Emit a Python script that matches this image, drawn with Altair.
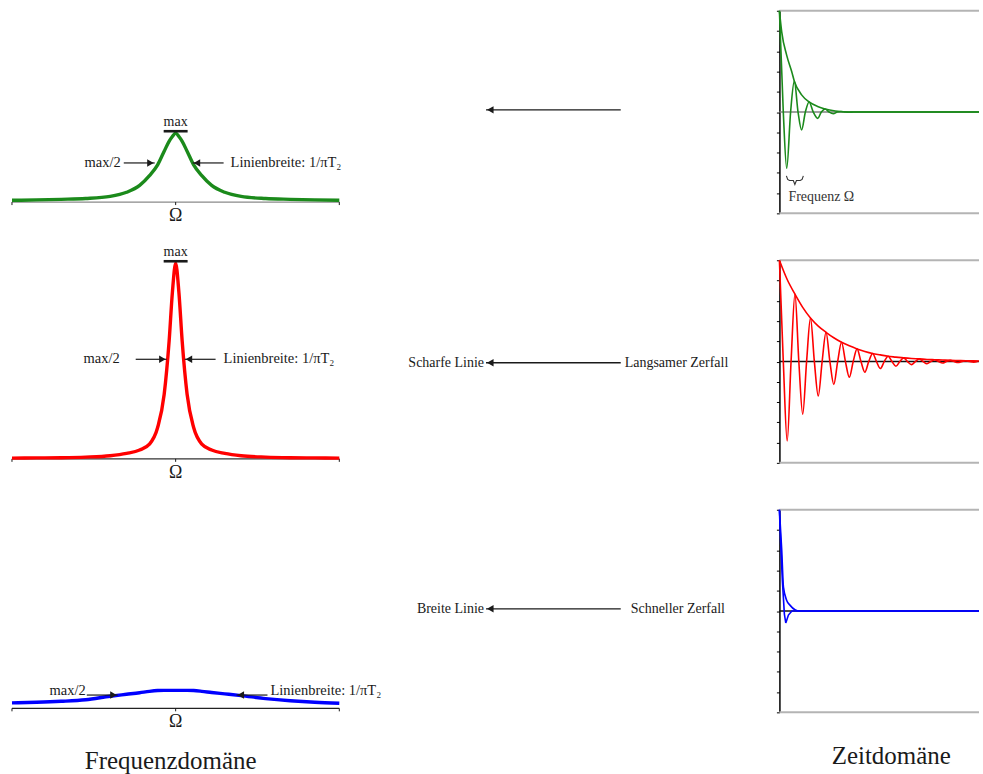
import altair as alt
import pandas as pd

SERIF = "Liberation Serif"
INK = "#1a1a1a"

GREEN = "#1b8a1b"
RED = "#ff0000"
BLUE = "#0000ff"

# ---------------- frequency domain (spectra) ----------------
FREQ_X = [-1.0, -0.85, -0.7, -0.55, -0.4, -0.3, -0.22, -0.16, -0.11, -0.07, -0.04, -0.02, 0.0,
          0.02, 0.04, 0.07, 0.11, 0.16, 0.22, 0.3, 0.4, 0.55, 0.7, 0.85, 1.0]
GREEN_SPEC = [0.009, 0.011, 0.014, 0.018, 0.029, 0.05, 0.085, 0.135, 0.19, 0.26, 0.31, 0.335, 0.352,
              0.335, 0.31, 0.26, 0.19, 0.135, 0.085, 0.05, 0.029, 0.018, 0.014, 0.011, 0.009]
RED_SPEC = [0.004, 0.005, 0.006, 0.009, 0.016, 0.028, 0.045, 0.075, 0.16, 0.33, 0.6, 0.85, 1.0,
            0.85, 0.6, 0.33, 0.16, 0.075, 0.045, 0.028, 0.016, 0.009, 0.006, 0.005, 0.004]
BLUE_SPEC = [0.028, 0.031, 0.036, 0.044, 0.062, 0.072, 0.08, 0.087, 0.091, 0.092, 0.092, 0.092, 0.092,
             0.092, 0.092, 0.092, 0.091, 0.087, 0.081, 0.074, 0.065, 0.05, 0.039, 0.031, 0.026]

# annotation anchors (frequency / intensity units)
SPEC_PEAK = [0.352, 1.0, 0.092]
HALF_Y = [0.20, 0.509, 0.068]
HALF_TIP_L = [-0.128, -0.055, -0.354]
HALF_TIP_R = [0.104, 0.055, 0.372]
SHOW_MAX = [True, True, False]
LABEL_MAX = "max"
LABEL_HALF = "max/2"
LABEL_WIDTH = "Linienbreite: 1/πT₂"
LABEL_OMEGA = "Ω"
TITLE_FREQ = "Frequenzdomäne"
TITLE_TIME = "Zeitdomäne"

# ---------------- time domain (FIDs) ----------------
T_END = 12.85
TICKS = [-1.0, -0.8, -0.6, -0.4, -0.2, 0.0, 0.2, 0.4, 0.6, 0.8, 1.0]

GREEN_T = [0.0, 0.25, 0.47, 0.72, 0.96, 1.2, 1.43, 1.67, 1.91, 2.18, 2.46, 2.7, 2.94, 3.2, 3.47,
           3.72, 3.97, 4.25, 4.5, 4.75, 12.85]
GREEN_FID = [1.0, 0.0, -0.555, 0.0, 0.305, 0.0, -0.177, 0.0, 0.10, 0.0, -0.062, 0.0, 0.03, 0.0,
             -0.016, 0.0, 0.006, 0.0, -0.002, 0.0, 0.0]
GREEN_ENV_T = [0.0, 0.15, 0.47, 0.79, 0.96, 1.43, 1.91, 2.46, 2.94, 3.6, 4.5, 12.85]
GREEN_ENV = [1.0, 0.79, 0.56, 0.40, 0.305, 0.17, 0.10, 0.055, 0.03, 0.01, 0.0, 0.0]

RED_T = [0.0, 0.25, 0.5, 0.75, 1.0, 1.25, 1.5, 1.75, 2.0, 2.25, 2.5, 2.75, 3.0, 3.25, 3.5, 3.75,
         4.0, 4.25, 4.5, 4.75, 5.0, 5.25, 5.5, 5.75, 6.0, 6.25, 6.5, 6.75, 7.0, 7.25, 7.5, 7.75,
         8.0, 8.25, 8.5, 8.75, 9.0, 9.25, 9.5, 9.75, 10.0, 10.25, 10.5, 10.75, 11.0, 11.25, 11.5,
         11.75, 12.0, 12.25, 12.5, 12.75]
RED_FID = [1.0, 0.0, -0.784, 0.0, 0.666, 0.0, -0.52, 0.0, 0.43, 0.0, -0.34, 0.0, 0.289, 0.0,
           -0.226, 0.0, 0.19, 0.0, -0.154, 0.0, 0.125, 0.0, -0.105, 0.0, 0.08, 0.0, -0.069, 0.0,
           0.052, 0.0, -0.046, 0.0, 0.036, 0.0, -0.03, 0.0, 0.026, 0.0, -0.021, 0.0, 0.018, 0.0,
           -0.014, 0.0, 0.012, 0.0, -0.01, 0.0, 0.008, 0.0, -0.006, 0.0]
RED_ENV_T = [0.0, 0.5, 1.0, 1.5, 2.0, 2.5, 3.0, 3.5, 4.0, 4.5, 5.0, 5.5, 6.0, 6.5, 7.0, 7.5, 8.0,
             8.5, 9.0, 9.5, 10.0, 10.5, 11.0, 11.5, 12.0, 12.5, 12.85]
RED_ENV = [1.0, 0.81, 0.666, 0.535, 0.43, 0.35, 0.289, 0.235, 0.19, 0.155, 0.125, 0.1, 0.08, 0.066,
           0.052, 0.044, 0.036, 0.03, 0.026, 0.021, 0.018, 0.015, 0.012, 0.01, 0.008, 0.007, 0.006]

BLUE_T = [0.0, 0.064, 0.19, 0.32, 0.41, 0.58, 0.8, 1.0, 12.85]
BLUE_FID = [1.0, 0.73, 0.30, -0.03, -0.118, -0.04, 0.0, 0.0, 0.0]
BLUE_ENV_T = [0.0, 0.15, 0.26, 0.47, 0.69, 1.0, 1.3, 12.85]
BLUE_ENV = [1.0, 0.6, 0.236, 0.105, 0.056, 0.013, 0.0, 0.0]

# brace marking one period of the green FID (between its first two minima)
BRACE_T = [0.45, 1.54]
BRACE_Y = [-0.63, -0.675, -0.715]   # hook ends, bar, centre point
LABEL_FREQ = "Frequenz Ω"

# ---------------- middle column ----------------
MID_LEFT = ["", "Scharfe Linie", "Breite Linie"]
MID_RIGHT = ["", "Langsamer Zerfall", "Schneller Zerfall"]

# ---------------- layout / style ----------------
ROW_H = 203
FREQ_W, MID_W, TIME_W = 381, 360, 200
FREQ_YDOM = [[-0.0577, 0.978], [-0.0204, 1.0153], [-0.0204, 1.0153]]
AXIS_COL = ["#8a8a8a", "#333333", "#222222"]
ZERO_COL = ["#808080", "#111111", "#111111"]
SHAFT = 31
GAP_L = [3, 16, 1]
GAP_R = [7, 8, 3]
LAB_DY = [0, 0, -4]
MID_Y = [99.3, 102.7, 99.3]
MID_RIGHT_X = [225, 225, 231]
FS = 14
FS_FREQ = 14.5


def freq_panel(i, values, color):
    xs = alt.Scale(domain=[-1.0732, 1.25], nice=False, zero=False)
    ys = alt.Scale(domain=FREQ_YDOM[i], nice=False, zero=False)

    def X(f):
        return alt.X(f"{f}:Q", scale=xs, axis=None)

    def Y(f):
        return alt.Y(f"{f}:Q", scale=ys, axis=None)

    layers = []
    axis_df = pd.DataFrame({"a": [FREQ_X[0]], "b": [FREQ_X[-1]], "y": [0.0]})
    layers.append(alt.Chart(axis_df).mark_rule(color=AXIS_COL[i], strokeWidth=1.3)
                  .encode(x=X("a"), x2="b", y=Y("y")))
    tick_df = pd.DataFrame({"f": [FREQ_X[0], 0.0, FREQ_X[-1]], "y": [0.0, 0.0, 0.0]})
    layers.append(alt.Chart(tick_df).mark_rule(color=INK, strokeWidth=1, y2Offset=3)
                  .encode(x=X("f"), y=Y("y"), y2="y"))
    spec = pd.DataFrame({"f": FREQ_X, "I": values})
    layers.append(alt.Chart(spec).mark_line(color=color, strokeWidth=3.4, interpolate="monotone")
                  .encode(x=X("f"), y=Y("I")))
    if SHOW_MAX[i]:
        pk = pd.DataFrame({"f": [0.0], "y": [SPEC_PEAK[i]]})
        layers.append(alt.Chart(pk).mark_rule(color=INK, strokeWidth=2.6, xOffset=-12, x2Offset=12,
                                              yOffset=-2)
                      .encode(x=X("f"), x2="f", y=Y("y")))
        layers.append(alt.Chart(pk).mark_text(text=LABEL_MAX, font=SERIF, fontSize=FS, color=INK,
                                              baseline="alphabetic", dy=-7)
                      .encode(x=X("f"), y=Y("y")))
    L = pd.DataFrame({"f": [HALF_TIP_L[i]], "y": [HALF_Y[i]]})
    R = pd.DataFrame({"f": [HALF_TIP_R[i]], "y": [HALF_Y[i]]})
    layers += [
        alt.Chart(L).mark_rule(color=INK, strokeWidth=1.2, x2Offset=-SHAFT)
        .encode(x=X("f"), x2="f", y=Y("y")),
        alt.Chart(L).mark_point(shape="triangle-right", size=56, filled=True, color=INK, opacity=1,
                                strokeWidth=0, xOffset=-4.3)
        .encode(x=X("f"), y=Y("y")),
        alt.Chart(R).mark_rule(color=INK, strokeWidth=1.2, x2Offset=SHAFT)
        .encode(x=X("f"), x2="f", y=Y("y")),
        alt.Chart(R).mark_point(shape="triangle-left", size=56, filled=True, color=INK, opacity=1,
                                strokeWidth=0, xOffset=4.3)
        .encode(x=X("f"), y=Y("y")),
        alt.Chart(L).mark_text(text=LABEL_HALF, font=SERIF, fontSize=FS_FREQ, color=INK, align="right",
                               baseline="middle", dx=-(SHAFT + GAP_L[i]), dy=LAB_DY[i])
        .encode(x=X("f"), y=Y("y")),
        alt.Chart(R).mark_text(text=LABEL_WIDTH, font=SERIF, fontSize=FS_FREQ, color=INK, align="left",
                               baseline="middle", dx=SHAFT + GAP_R[i], dy=LAB_DY[i])
        .encode(x=X("f"), y=Y("y")),
    ]
    om = pd.DataFrame({"f": [0.0], "y": [0.0]})
    layers.append(alt.Chart(om).mark_text(text=LABEL_OMEGA, font=SERIF, fontSize=18, color=INK,
                                          baseline="alphabetic", dy=19)
                  .encode(x=X("f"), y=Y("y")))
    if i == 2:
        layers.append(alt.Chart(om).mark_text(text=TITLE_FREQ, font=SERIF, fontSize=25, color=INK,
                                              baseline="alphabetic", dy=61, dx=-5)
                      .encode(x=X("f"), y=Y("y")))
    return alt.layer(*layers).properties(width=FREQ_W, height=ROW_H)


def mid_panel(i):
    df = pd.DataFrame({"links": [MID_LEFT[i]], "rechts": [MID_RIGHT[i]]})
    base = alt.Chart(df)
    y = alt.value(MID_Y[i])
    shaft = base.mark_rule(color=INK, strokeWidth=1.3).encode(x=alt.value(86), x2=alt.value(221), y=y)
    head = base.mark_point(shape="triangle-left", size=56, filled=True, color=INK, opacity=1,
                           strokeWidth=0).encode(x=alt.value(90.3), y=y)
    lt = base.mark_text(align="right", baseline="middle", font=SERIF, fontSize=FS, color=INK) \
        .encode(x=alt.value(84), y=y, text="links:N")
    rt = base.mark_text(align="left", baseline="middle", font=SERIF, fontSize=FS, color=INK) \
        .encode(x=alt.value(MID_RIGHT_X[i]), y=y, text="rechts:N")
    return alt.layer(shaft, head, lt, rt).properties(width=MID_W, height=ROW_H)


def time_panel(i, tf, fv, te, ev, color):
    xs = alt.Scale(domain=[0, T_END], nice=False, zero=False)
    ys = alt.Scale(domain=[-1, 1], nice=False, zero=False)
    yaxis = alt.Axis(values=TICKS, labels=False, title=None, grid=False, ticks=True, tickSize=3,
                     tickColor="black", tickWidth=1, domainColor="black", domainWidth=1.5)

    def X(f):
        return alt.X(f"{f}:Q", scale=xs, axis=None)

    def Y(f):
        return alt.Y(f"{f}:Q", scale=ys, axis=yaxis)

    layers = []
    border = pd.DataFrame({"a": [0.0, 0.0], "b": [T_END, T_END], "y": [1.0, -1.0]})
    layers.append(alt.Chart(border).mark_rule(color="#b4b4b4", strokeWidth=2)
                  .encode(x=X("a"), x2="b", y=Y("y")))
    zero = pd.DataFrame({"a": [0.0], "b": [T_END], "y": [0.0]})
    layers.append(alt.Chart(zero).mark_rule(color=ZERO_COL[i], strokeWidth=1.5)
                  .encode(x=X("a"), x2="b", y=Y("y")))
    env = pd.DataFrame({"t": te, "v": ev})
    layers.append(alt.Chart(env).mark_line(color=color, strokeWidth=1.6, interpolate="monotone")
                  .encode(x=X("t"), y=Y("v")))
    fid = pd.DataFrame({"t": tf, "v": fv})
    interp = "linear" if i == 2 else "monotone"
    layers.append(alt.Chart(fid).mark_line(color=color, strokeWidth=1.6, interpolate=interp)
                  .encode(x=X("t"), y=Y("v")))
    if i == 0:
        t0, t1 = BRACE_T
        tm = (t0 + t1) / 2
        hook, bar, tip = BRACE_Y
        brace = pd.DataFrame({
            "t": [t0, t0 + 0.08, t0 + 0.2, tm - 0.1, tm, tm + 0.1, t1 - 0.2, t1 - 0.08, t1],
            "v": [hook, bar + 0.01, bar, bar, tip, bar, bar, bar + 0.01, hook],
            "o": list(range(9)),
        })
        layers.append(alt.Chart(brace).mark_line(color="#333333", strokeWidth=1.1)
                      .encode(x=X("t"), y=Y("v"), order="o:Q"))
        fl = pd.DataFrame({"t": [t0], "v": [-0.88]})
        layers.append(alt.Chart(fl).mark_text(text=LABEL_FREQ, font=SERIF, fontSize=FS, color="#333333",
                                              align="left", baseline="alphabetic", dx=2)
                      .encode(x=X("t"), y=Y("v")))
    if i == 2:
        tt = pd.DataFrame({"t": [7.2], "v": [-1.0]})
        layers.append(alt.Chart(tt).mark_text(text=TITLE_TIME, font=SERIF, fontSize=25, color=INK,
                                              baseline="alphabetic", dy=52)
                      .encode(x=X("t"), y=Y("v")))
    return alt.layer(*layers).properties(width=TIME_W, height=ROW_H)


panels = []
specs = [GREEN_SPEC, RED_SPEC, BLUE_SPEC]
cols = [GREEN, RED, BLUE]
fids = [(GREEN_T, GREEN_FID, GREEN_ENV_T, GREEN_ENV),
        (RED_T, RED_FID, RED_ENV_T, RED_ENV),
        (BLUE_T, BLUE_FID, BLUE_ENV_T, BLUE_ENV)]
for i in range(3):
    tf, fv, te, ev = fids[i]
    panels += [freq_panel(i, specs[i], cols[i]), mid_panel(i),
               time_panel(i, tf, fv, te, ev, cols[i])]

chart = alt.concat(*panels, columns=3, spacing={"row": 47, "column": 20}, bounds="flush",
                   align="each").properties(
    padding={"left": 0, "top": 6, "right": 0, "bottom": 0}
).configure_view(strokeWidth=0)

chart.save("out.html", embed_options={"renderer": "svg", "actions": False})
